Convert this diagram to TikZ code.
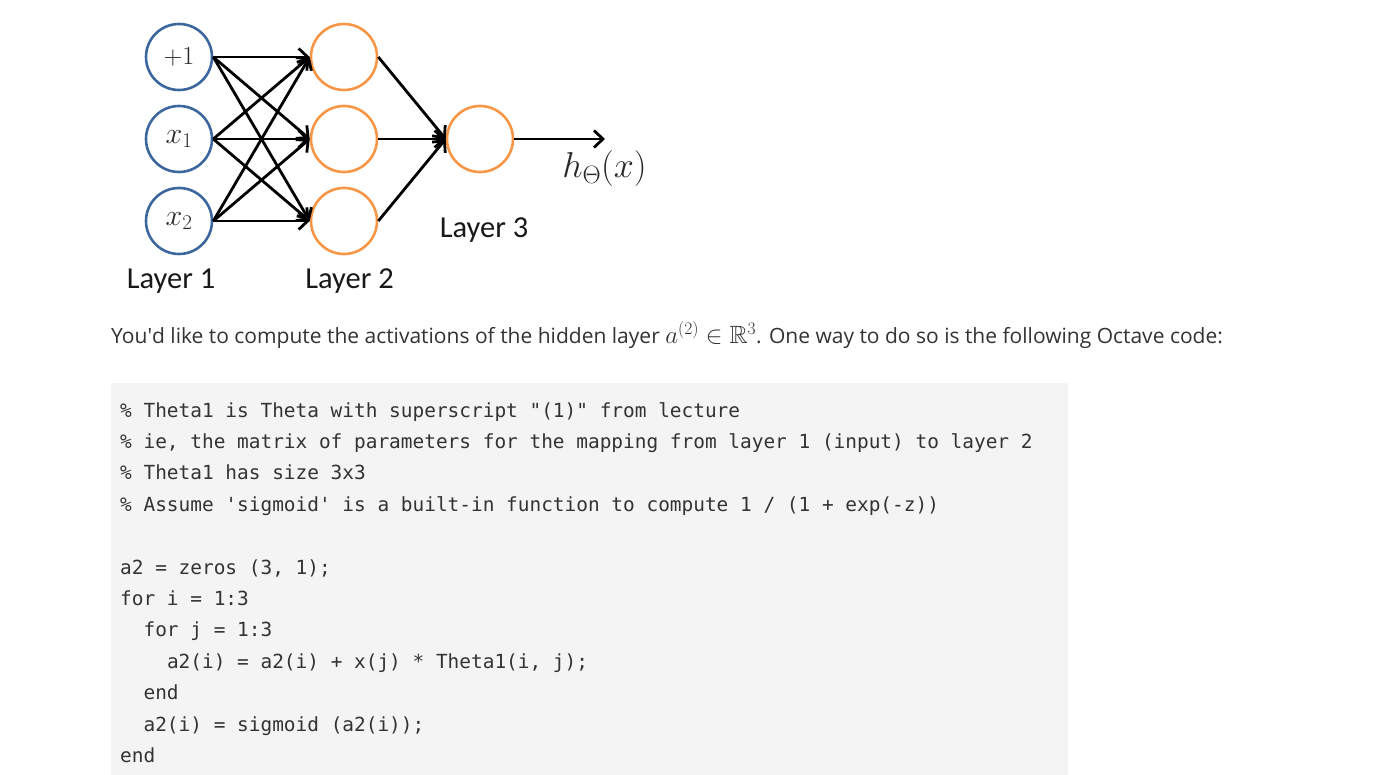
\RequirePackage{fix-cm}
\documentclass[tikz,border=0pt]{standalone}
\usepackage{amssymb}
\usepackage{fontspec}
\newfontfamily\opensans{Open Sans}
\newfontfamily\carlito{Carlito}
\setmonofont{DejaVu Sans Mono}
\usetikzlibrary{arrows.meta}
\definecolor{inblue}{RGB}{60,103,158}
\definecolor{hidorange}{RGB}{247,150,70}
\definecolor{codebg}{RGB}{244,244,244}
\definecolor{txt}{RGB}{51,51,51}
\definecolor{mathgray}{RGB}{40,40,40}
\tikzset{
  neuron/.style={circle, minimum size=66pt, inner sep=0pt, line width=2.6pt, fill=white,
    font=\fontsize{30}{34}\selectfont, text=mathgray},
  inp/.style={neuron, draw=inblue},
  hid/.style={neuron, draw=hidorange},
  conn/.style={line width=2.8pt, -{Straight Barb[length=9pt,width=17pt]}},
  lbl/.style={anchor=base, inner sep=0pt, font=\carlito\fontsize{30.5}{34}\selectfont, text=black!90},
  codeline/.style={anchor=base west, inner sep=0pt, font=\ttfamily\fontsize{19.43}{22}\selectfont, text=txt},
}
\begin{document}
\begin{tikzpicture}[x=1pt,y=-1pt]
\useasboundingbox (0,0) rectangle (1378,775);
\fill[white] (0,0) rectangle (1378,775);
% network
\node[inp, font=\fontsize{26}{30}\selectfont] (a1) at (179,57) {$+1$};
\node[inp] (a2) at (179,139) {$x_1$};
\node[inp] (a3) at (179,221) {$x_2$};
\node[hid] (b1) at (344,57) {};
\node[hid] (b2) at (344,139) {};
\node[hid] (b3) at (344,221) {};
\node[hid] (c1) at (480,139) {};
\coordinate (out) at (605,139);
\foreach \s in {a1,a2,a3}{
  \foreach \t in {b1,b2,b3}{
    \draw[conn] (\s.east) -- (\t.west);
  }
}
\foreach \s in {b1,b2,b3}{
  \draw[conn] (\s.east) -- (c1.west);
}
\draw[conn] (c1.east) -- (out);
\node[anchor=base, inner sep=0pt, text=mathgray, font=\fontsize{36}{40}\selectfont] (h) at (604.5,178) {$h_\Theta(x)$};
\node[lbl] (L1) at (171,289) {Layer 1};
\node[lbl] (L2) at (349.5,289) {Layer 2};
\node[lbl] (L3) at (484,238) {Layer 3};
% paragraph
\node[anchor=base west, inner sep=0pt, text=txt, font=\opensans\fontsize{21}{25}\selectfont] (para) at (111,344)
  {You\textquotesingle d like to compute the activations of the hidden layer {\fontsize{25}{30}\selectfont$a^{(2)}\in\mathbb{R}^3$}. One way to do so is the following Octave code:};
% code block
\fill[codebg] (111,383) rectangle (1068,775);
\node[codeline] (k1) at (120,417) {\% Theta1 is Theta with superscript "(1)" from lecture};
\node[codeline] (k2) at (120,448.4) {\% ie, the matrix of parameters for the mapping from layer 1 (input) to layer 2};
\node[codeline] (k3) at (120,479.8) {\% Theta1 has size 3x3};
\node[codeline] (k4) at (120,511.2) {\% Assume 'sigmoid' is a built-in function to compute 1 / (1 + exp(-z))};
\node[codeline] (k5) at (120,574) {a2 = zeros (3, 1);};
\node[codeline] (k6) at (120,605.4) {for i = 1:3};
\node[codeline] (k7) at (143.4,636.8) {for j = 1:3};
\node[codeline] (k8) at (166.8,668.2) {a2(i) = a2(i) + x(j) * Theta1(i, j);};
\node[codeline] (k9) at (143.4,699.6) {end};
\node[codeline] (k10) at (143.4,731) {a2(i) = sigmoid (a2(i));};
\node[codeline] (k11) at (120,762.4) {end};
\end{tikzpicture}
\end{document}
